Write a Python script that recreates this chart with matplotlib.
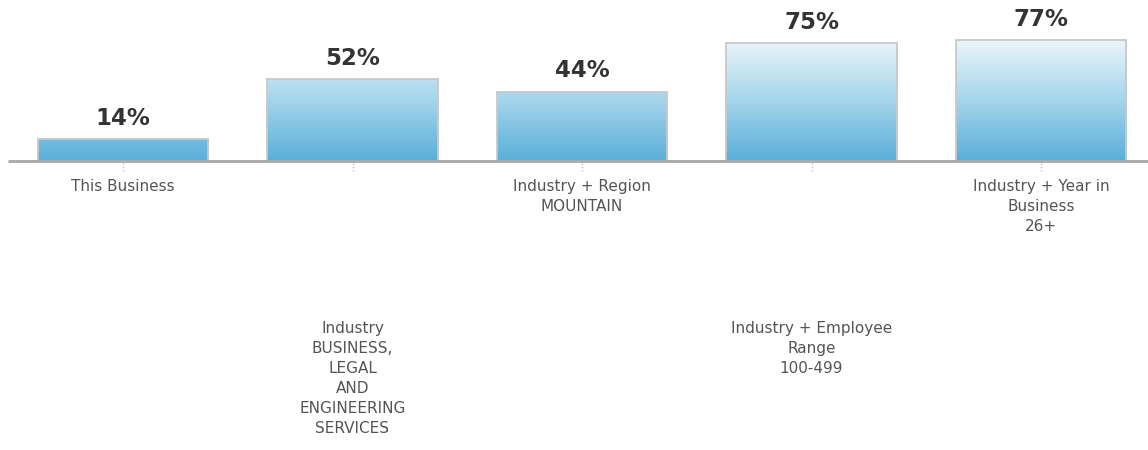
import matplotlib
matplotlib.use("Agg")
import matplotlib.pyplot as plt
import numpy as np
from matplotlib.colors import LinearSegmentedColormap

labels = [
    "This Business",
    "Industry\nBUSINESS,\nLEGAL\nAND\nENGINEERING\nSERVICES",
    "Industry + Region\nMOUNTAIN",
    "Industry + Employee\nRange\n100-499",
    "Industry + Year in\nBusiness\n26+",
]
values = [14, 52, 44, 75, 77]

plt.rcParams['font.family'] = ['DejaVu Sans']

fig = plt.figure(figsize=(11.48, 4.5), dpi=100)
ax = fig.add_axes([0, 1 - 161 / 450, 1, 161 / 450])
ymax = 161 / 1.571
ax.set_xlim(-123 / 229.5, (1148 - 123) / 229.5)
ax.set_ylim(0, ymax)
ax.axis('off')

# gradient: blue at the baseline fading to near white high up
cmap = LinearSegmentedColormap.from_list('g', ['#5aafd9', '#a9d7ec', '#f4f9fc'])
grad = np.linspace(0, 1, 256).reshape(-1, 1)
width = 0.745

x = np.arange(len(values))
for xi, v in zip(x, values):
    im = ax.imshow(grad, cmap=cmap, origin='lower', aspect='auto',
                   extent=(xi - width / 2, xi + width / 2, 0, 82),
                   vmin=0, vmax=1, zorder=1)
    rect = plt.Rectangle((xi - width / 2, 0), width, v, facecolor='none',
                         edgecolor='#c8c8c8', linewidth=1.3, zorder=3)
    ax.add_patch(rect)
    im.set_clip_path(rect)
    ax.text(xi, v + 6, f"{v}%", ha='center', va='bottom', fontsize=16.5,
            fontweight='bold', color='#333333')

ax.plot([-0.5, 5], [0, 0], color='#a8a8a8', linewidth=2, zorder=4,
        solid_capstyle='butt', clip_on=False)

# x labels, staggered
for i, (xi, lab) in enumerate(zip(x, labels)):
    fig_x = (123 + xi * 229.5) / 1148
    fig.lines.append(plt.Line2D([fig_x, fig_x], [1 - 163 / 450, 1 - 171 / 450],
                                transform=fig.transFigure, color='#bbbbbb',
                                linewidth=1, linestyle=(0, (1, 1.5))))
    top = 179 if i % 2 == 0 else 321
    fig.text(fig_x, 1 - top / 450, lab, ha='center', va='top', fontsize=11,
             color='#555555', linespacing=1.42)

fig.savefig('out.png', dpi=100, facecolor='white')
